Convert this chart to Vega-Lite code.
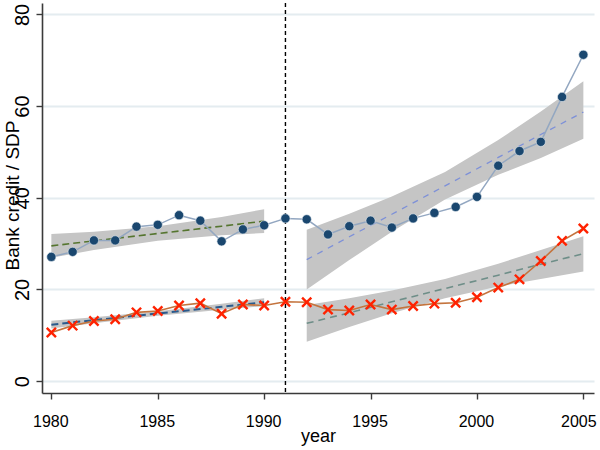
{
  "$schema": "https://vega.github.io/schema/vega-lite/v6.json",
  "width": 552,
  "height": 390,
  "autosize": {"type": "none"},
  "padding": {"left": 42, "top": 3, "right": 6, "bottom": 57},
  "background": "white",
  "config": {
    "view": {"stroke": null},
    "axis": {
      "domainColor": "#3a3a3a",
      "domainWidth": 1.6,
      "tickColor": "#3a3a3a",
      "tickWidth": 1.4,
      "labelColor": "#000000",
      "titleColor": "#000000",
      "titleFontWeight": "normal"
    }
  },
  "datasets": {
    "obs": [
      {"year": 1980, "series": "blue", "value": 27.1}, {"year": 1981, "series": "blue", "value": 28.2},
      {"year": 1982, "series": "blue", "value": 30.7}, {"year": 1983, "series": "blue", "value": 30.7},
      {"year": 1984, "series": "blue", "value": 33.7}, {"year": 1985, "series": "blue", "value": 34.1},
      {"year": 1986, "series": "blue", "value": 36.2}, {"year": 1987, "series": "blue", "value": 35.0},
      {"year": 1988, "series": "blue", "value": 30.5}, {"year": 1989, "series": "blue", "value": 33.1},
      {"year": 1990, "series": "blue", "value": 34.0}, {"year": 1991, "series": "blue", "value": 35.5},
      {"year": 1992, "series": "blue", "value": 35.3}, {"year": 1993, "series": "blue", "value": 32.0},
      {"year": 1994, "series": "blue", "value": 33.8}, {"year": 1995, "series": "blue", "value": 35.0},
      {"year": 1996, "series": "blue", "value": 33.5}, {"year": 1997, "series": "blue", "value": 35.5},
      {"year": 1998, "series": "blue", "value": 36.7}, {"year": 1999, "series": "blue", "value": 38.0},
      {"year": 2000, "series": "blue", "value": 40.2}, {"year": 2001, "series": "blue", "value": 47.0},
      {"year": 2002, "series": "blue", "value": 50.2}, {"year": 2003, "series": "blue", "value": 52.2},
      {"year": 2004, "series": "blue", "value": 62.0}, {"year": 2005, "series": "blue", "value": 71.2},
      {"year": 1980, "series": "red", "value": 10.6}, {"year": 1981, "series": "red", "value": 12.1},
      {"year": 1982, "series": "red", "value": 13.1}, {"year": 1983, "series": "red", "value": 13.5},
      {"year": 1984, "series": "red", "value": 15.0}, {"year": 1985, "series": "red", "value": 15.3},
      {"year": 1986, "series": "red", "value": 16.5}, {"year": 1987, "series": "red", "value": 17.0},
      {"year": 1988, "series": "red", "value": 14.7}, {"year": 1989, "series": "red", "value": 16.7},
      {"year": 1990, "series": "red", "value": 16.5}, {"year": 1991, "series": "red", "value": 17.3},
      {"year": 1992, "series": "red", "value": 17.2}, {"year": 1993, "series": "red", "value": 15.6},
      {"year": 1994, "series": "red", "value": 15.4}, {"year": 1995, "series": "red", "value": 16.7},
      {"year": 1996, "series": "red", "value": 15.6}, {"year": 1997, "series": "red", "value": 16.4},
      {"year": 1998, "series": "red", "value": 16.9}, {"year": 1999, "series": "red", "value": 17.1},
      {"year": 2000, "series": "red", "value": 18.3}, {"year": 2001, "series": "red", "value": 20.4},
      {"year": 2002, "series": "red", "value": 22.2}, {"year": 2003, "series": "red", "value": 26.2},
      {"year": 2004, "series": "red", "value": 30.6}, {"year": 2005, "series": "red", "value": 33.3}
    ],
    "fit": [
      {"year": 1980, "grp": "blue_pre", "fit": 29.5, "lo": 26.9, "hi": 32.1},
      {"year": 1982, "grp": "blue_pre", "fit": 30.6, "lo": 28.6, "hi": 32.6},
      {"year": 1985, "grp": "blue_pre", "fit": 32.2, "lo": 30.6, "hi": 33.8},
      {"year": 1988, "grp": "blue_pre", "fit": 33.8, "lo": 31.8, "hi": 35.8},
      {"year": 1990, "grp": "blue_pre", "fit": 34.9, "lo": 32.3, "hi": 37.5},
      {"year": 1980, "grp": "red_pre", "fit": 12.3, "lo": 11.45, "hi": 13.15},
      {"year": 1982, "grp": "red_pre", "fit": 13.3, "lo": 12.6, "hi": 13.95},
      {"year": 1985, "grp": "red_pre", "fit": 14.75, "lo": 14.25, "hi": 15.25},
      {"year": 1988, "grp": "red_pre", "fit": 16.2, "lo": 15.55, "hi": 16.9},
      {"year": 1990, "grp": "red_pre", "fit": 17.2, "lo": 16.35, "hi": 18.05},
      {"year": 1992, "grp": "blue_post", "fit": 26.5, "lo": 20.0, "hi": 33.0},
      {"year": 1994, "grp": "blue_post", "fit": 31.5, "lo": 26.4, "hi": 36.5},
      {"year": 1996, "grp": "blue_post", "fit": 36.4, "lo": 32.6, "hi": 40.3},
      {"year": 1998.5, "grp": "blue_post", "fit": 42.6, "lo": 39.6, "hi": 45.6},
      {"year": 2001, "grp": "blue_post", "fit": 48.8, "lo": 45.0, "hi": 52.6},
      {"year": 2003, "grp": "blue_post", "fit": 53.8, "lo": 48.7, "hi": 58.8},
      {"year": 2005, "grp": "blue_post", "fit": 58.7, "lo": 52.9, "hi": 65.4},
      {"year": 1992, "grp": "red_post", "fit": 12.6, "lo": 8.6, "hi": 16.6},
      {"year": 1994, "grp": "red_post", "fit": 14.9, "lo": 11.8, "hi": 18.1},
      {"year": 1996, "grp": "red_post", "fit": 17.3, "lo": 14.8, "hi": 19.75},
      {"year": 1998.5, "grp": "red_post", "fit": 20.2, "lo": 18.1, "hi": 22.3},
      {"year": 2001, "grp": "red_post", "fit": 23.1, "lo": 20.65, "hi": 25.6},
      {"year": 2003, "grp": "red_post", "fit": 25.5, "lo": 22.3, "hi": 28.6},
      {"year": 2005, "grp": "red_post", "fit": 27.8, "lo": 23.9, "hi": 31.6}
    ],
    "vline": [{"year": 1991}]
  },
  "encoding": {
    "x": {
      "field": "year", "type": "quantitative",
      "scale": {"domain": [1979.56, 2005.5], "nice": false, "zero": false},
      "axis": {
        "title": "year",
        "values": [1980, 1985, 1990, 1995, 2000, 2005],
        "format": "d",
        "grid": false,
        "tickSize": 6,
        "labelFont": "Liberation Sans",
        "labelFontSize": 16,
        "labelBaseline": "alphabetic",
        "labelPadding": 27,
        "labelOffset": {"condition": {"test": "datum.value === 2005", "value": -5}, "value": -1},
        "labelFlush": false,
        "labelOverlap": false,
        "titleFont": "Liberation Sans",
        "titleFontSize": 18,
        "titleBaseline": "alphabetic",
        "titleY": 48
      }
    }
  },
  "layer": [
    {
      "data": {"name": "fit"},
      "mark": {"type": "area", "color": "#c5c5c5", "opacity": 1},
      "encoding": {
        "y": {
          "field": "lo", "type": "quantitative",
          "scale": {"domain": [-2.6, 82.5], "nice": false, "zero": false},
          "axis": {
            "title": "Bank credit / SDP",
            "values": [0, 20, 40, 60, 80],
            "grid": true,
            "gridColor": "#e4ecf0",
            "gridWidth": 1.8,
            "tickSize": 6,
            "labelAngle": 270,
            "labelAlign": "center",
            "labelBaseline": "alphabetic",
            "labelPadding": 8,
            "labelFont": "Liberation Sans",
            "labelFontSize": 20,
            "labelFlush": false,
            "labelOverlap": false,
            "titleFont": "Liberation Sans",
            "titleFontSize": 19,
            "titleAngle": 270,
            "titleAlign": "center",
            "titleBaseline": "alphabetic",
            "titleX": -24,
            "titleY": 192
          }
        },
        "y2": {"field": "hi"},
        "detail": {"field": "grp"}
      }
    },
    {
      "data": {"name": "vline"},
      "mark": {"type": "rule", "color": "#000000", "strokeWidth": 1.4, "strokeDash": [4, 3]},
      "encoding": {}
    },
    {
      "data": {"name": "fit"},
      "transform": [{"filter": "datum.grp === 'blue_pre'"}],
      "mark": {"type": "line", "color": "#55752f", "strokeWidth": 1.6, "strokeDash": [7, 4]},
      "encoding": {"y": {"field": "fit", "type": "quantitative"}}
    },
    {
      "data": {"name": "fit"},
      "transform": [{"filter": "datum.grp === 'red_pre'"}],
      "mark": {"type": "line", "color": "#2a5a8c", "strokeWidth": 2, "strokeDash": [7, 4]},
      "encoding": {"y": {"field": "fit", "type": "quantitative"}}
    },
    {
      "data": {"name": "fit"},
      "transform": [{"filter": "datum.grp === 'blue_post'"}],
      "mark": {"type": "line", "color": "#7d90d8", "strokeWidth": 1.3, "strokeDash": [6, 6]},
      "encoding": {"y": {"field": "fit", "type": "quantitative"}}
    },
    {
      "data": {"name": "fit"},
      "transform": [{"filter": "datum.grp === 'red_post'"}],
      "mark": {"type": "line", "color": "#6e8e88", "strokeWidth": 1.6, "strokeDash": [7, 5]},
      "encoding": {"y": {"field": "fit", "type": "quantitative"}}
    },
    {
      "data": {"name": "obs"},
      "transform": [{"filter": "datum.series === 'blue'"}],
      "mark": {"type": "line", "color": "#93a7c1", "strokeWidth": 1.5},
      "encoding": {"y": {"field": "value", "type": "quantitative"}}
    },
    {
      "data": {"name": "obs"},
      "transform": [{"filter": "datum.series === 'red'"}],
      "mark": {"type": "line", "color": "#c4743e", "strokeWidth": 1.6},
      "encoding": {"y": {"field": "value", "type": "quantitative"}}
    },
    {
      "data": {"name": "obs"},
      "transform": [{"filter": "datum.series === 'blue'"}],
      "mark": {"type": "point", "shape": "circle", "filled": true, "fill": "#1a476f", "stroke": "#e6ecf2", "strokeWidth": 0.6, "opacity": 1, "size": 85},
      "encoding": {"y": {"field": "value", "type": "quantitative"}}
    },
    {
      "data": {"name": "obs"},
      "transform": [{"filter": "datum.series === 'red'"}],
      "mark": {"type": "point", "shape": "M-1,-1L1,1M-1,1L1,-1", "filled": false, "color": "#ff2200", "strokeWidth": 2.4, "opacity": 1, "size": 85},
      "encoding": {"y": {"field": "value", "type": "quantitative"}}
    }
  ]
}
